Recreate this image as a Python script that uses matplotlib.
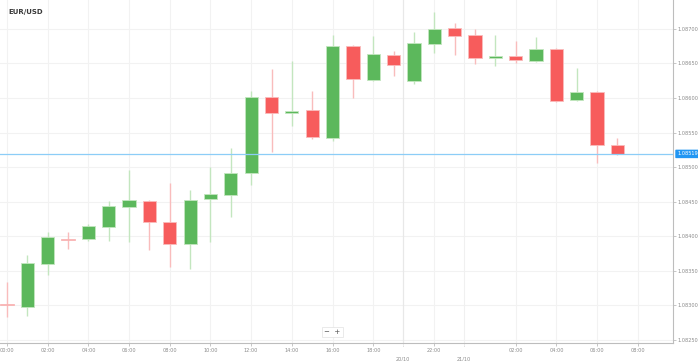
import matplotlib.pyplot as plt
import matplotlib.transforms as mtransforms
import numpy as np

# hourly EUR/USD candles
opens = [1.08302, 1.08297, 1.08359, 1.08396, 1.08396, 1.08413, 1.08442, 1.08451,
         1.08420, 1.08388, 1.08454, 1.08459, 1.08491, 1.08601, 1.08578, 1.08583,
         1.08542, 1.08675, 1.08626, 1.08662, 1.08625, 1.08678, 1.08701, 1.08691,
         1.08658, 1.08661, 1.08654, 1.08671, 1.08597, 1.08609, 1.08532]
highs = [1.08333, 1.08372, 1.08406, 1.08406, 1.08417, 1.08451, 1.08496, 1.08452,
         1.08477, 1.08467, 1.08500, 1.08528, 1.08610, 1.08642, 1.08654, 1.08610,
         1.08691, 1.08677, 1.08690, 1.08668, 1.08696, 1.08725, 1.08709, 1.08700,
         1.08691, 1.08683, 1.08688, 1.08672, 1.08643, 1.08610, 1.08542]
lows = [1.08283, 1.08284, 1.08343, 1.08381, 1.08393, 1.08393, 1.08391, 1.08380,
        1.08355, 1.08352, 1.08391, 1.08428, 1.08474, 1.08522, 1.08559, 1.08541,
        1.08538, 1.08600, 1.08625, 1.08632, 1.08620, 1.08665, 1.08662, 1.08649,
        1.08646, 1.08651, 1.08652, 1.08594, 1.08596, 1.08506, 1.08517]
closes = [1.08300, 1.08361, 1.08399, 1.08394, 1.08414, 1.08443, 1.08452, 1.08420,
          1.08388, 1.08452, 1.08461, 1.08491, 1.08601, 1.08578, 1.08581, 1.08543,
          1.08675, 1.08628, 1.08664, 1.08648, 1.08680, 1.08700, 1.08690, 1.08658,
          1.08661, 1.08655, 1.08671, 1.08596, 1.08609, 1.08532, 1.08519]
last_price = 1.08519

time_ticks = [0, 2, 4, 6, 8, 10, 12, 14, 16, 18, 21, 25, 27, 29, 31]
time_labels = ['00:00', '02:00', '04:00', '06:00', '08:00', '10:00', '12:00', '14:00',
               '16:00', '18:00', '22:00', '02:00', '04:00', '06:00', '08:00']
date_ticks = [19.46, 22.46]
date_labels = ['20/10', '21/10']
price_ticks = [1.08250, 1.08300, 1.08350, 1.08400, 1.08450,
               1.08500, 1.08550, 1.08600, 1.08650, 1.08700]

up_col, down_col = '#5cb85c', '#f75c5c'
up_wick, down_wick = '#c3e6bf', '#f9bcbc'

fig = plt.figure(figsize=(6.98, 3.61), dpi=100)
ax = fig.add_axes([0, 18 / 361, 673 / 698, 343 / 361])

x = np.arange(len(opens))
o = np.array(opens)
c = np.array(closes)
rising = c >= o

for i in x:
    col = up_col if rising[i] else down_col
    wcol = up_wick if rising[i] else down_wick
    ax.vlines(i, lows[i], highs[i], color=wcol, linewidth=1.0, zorder=2)
    bottom = min(o[i], c[i])
    height = max(abs(c[i] - o[i]), 0.000018)
    ax.bar(i, height, bottom=bottom, width=0.65, color=col,
           edgecolor=wcol, linewidth=0.6, zorder=3)

# grid
for t in price_ticks:
    ax.axhline(t, color='#f2f2f2', linewidth=0.8, zorder=0)
for t in time_ticks:
    ax.axvline(t, color='#f2f2f2', linewidth=0.8, zorder=0)
ax.axvline(date_ticks[0], color='#e8e8e8', linewidth=0.9, zorder=0)
ax.axvline(date_ticks[1], color='#f0f0f0', linewidth=0.8, zorder=0)

ax.axhline(last_price, color='#8ccdf7', linewidth=0.9, zorder=4)

ax.set_xlim(-0.344, 32.73)
ax.set_ylim(1.08245, 1.08742)

for s in ['top', 'left']:
    ax.spines[s].set_visible(False)
for s in ['right', 'bottom']:
    ax.spines[s].set_color('#bdbdbd')
    ax.spines[s].set_linewidth(0.8)

ax.yaxis.tick_right()
ax.set_yticks(price_ticks)
ax.set_yticklabels(['%.5f' % t for t in price_ticks])
ax.set_xticks(time_ticks)
ax.set_xticklabels(time_labels)
ax.tick_params(axis='both', labelsize=3.6, colors='#bdbdbd', labelcolor='#8a8a8a',
               length=2, width=0.6, pad=1.5)

trans = mtransforms.blended_transform_factory(ax.transData, ax.transAxes)
for pos, lab in zip(date_ticks, date_labels):
    ax.plot([pos, pos], [0, -0.012], transform=trans, color='#bdbdbd',
            linewidth=0.6, linestyle=':', clip_on=False)
    ax.text(pos, -0.04, lab, transform=trans, fontsize=3.6, color='#8a8a8a',
            ha='center', va='top')

# current price marker
ptrans = mtransforms.blended_transform_factory(ax.transAxes, ax.transData)
ax.text(1.006, last_price, '%.5f' % last_price, transform=ptrans, fontsize=3.6,
        color='white', ha='left', va='center',
        bbox=dict(boxstyle='round,pad=0.35,rounding_size=0.15', fc='#2196f3', ec='none'))

ax.text(8 / 673, 1 - 12 / 343, 'EUR/USD', transform=ax.transAxes, fontsize=5,
        fontweight='bold', color='#3a3a3a', ha='left', va='center')

# zoom buttons
ax.text(16.0, 0.032, '\u2212  +', transform=trans, fontsize=5, color='#555555',
        ha='center', va='center',
        bbox=dict(boxstyle='square,pad=0.3', fc='white', ec='#e6e6e6', lw=0.6))

fig.savefig('out.png', dpi=100)
